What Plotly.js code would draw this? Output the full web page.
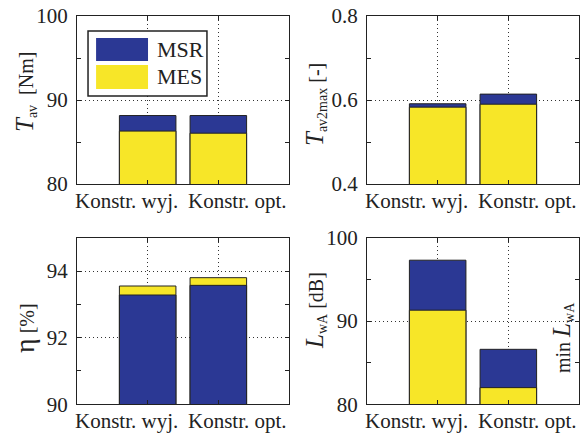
<!DOCTYPE html>
<html>
<head>
<meta charset="utf-8">
<script src="https://cdn.plot.ly/plotly-3.0.1.min.js"></script>
<style>
  html, body { margin: 0; padding: 0; background: #fff; }
  #chart { width: 585px; height: 442px; }
</style>
</head>
<body>
<div id="chart"></div>
<script>
// Design variants compared in every panel
const categories = ['Konstr. wyj.', 'Konstr. opt.'];
const seriesNames = ['MSR', 'MES'];

// Average torque T_av [Nm]
const torqueMSR = [88.15, 88.15];
const torqueMES = [86.3, 86.05];

// Torque ratio T_av2max [-]
const ratioMSR = [0.591, 0.614];
const ratioMES = [0.583, 0.590];

// Efficiency eta [%]
const effMSR = [93.28, 93.57];
const effMES = [93.55, 93.80];

// Sound power level L_wA [dB]
const noiseMSR = [97.3, 86.6];
const noiseMES = [91.3, 82.0];

const BLUE = '#2b3894';
const YELLOW = '#f7e628';
const INK = '#222';
const SERIF = '"Liberation Serif", "Times New Roman", serif';

// Both series are overlaid on the same bar; the taller one goes behind.
function panelTraces(xa, ya, msr, mes) {
  const list = [
    { name: seriesNames[0], y: msr, color: BLUE },
    { name: seriesNames[1], y: mes, color: YELLOW }
  ];
  list.sort((a, b) => Math.max(...b.y) - Math.max(...a.y));
  return list.map(s => ({
    type: 'bar',
    name: s.name,
    x: categories,
    y: s.y,
    width: 0.8,
    xaxis: xa,
    yaxis: ya,
    marker: { color: s.color, line: { color: INK, width: 1 } },
    showlegend: false,
    hoverinfo: 'x+y+name'
  }));
}

const data = [
  ...panelTraces('x', 'y', torqueMSR, torqueMES),
  ...panelTraces('x2', 'y2', ratioMSR, ratioMES),
  ...panelTraces('x3', 'y3', effMSR, effMES),
  ...panelTraces('x4', 'y4', noiseMSR, noiseMES)
];

const W = 585, H = 442;
const px = v => v / W;
const py = v => 1 - v / H;

const colL = [px(77), px(289)];
const colR = [px(367), px(579)];
const rowT = [py(184), py(16)];
const rowB = [py(404.3), py(237.7)];

const GRID = { showgrid: true, gridcolor: '#333', griddash: '1px,3px', gridwidth: 1 };

function xAxis(domain, anchor) {
  return Object.assign({
    domain, anchor,
    type: 'category',
    range: [-1, 2],
    ticks: 'inside', ticklen: 4, tickcolor: INK,
    showline: true, linecolor: INK, linewidth: 1, mirror: 'ticks',
    showticklabels: false, zeroline: false, fixedrange: true
  }, GRID);
}

function yAxis(domain, anchor, range, tickvals, minorVals, fmt) {
  return Object.assign({
    domain, anchor, range,
    tickmode: 'array', tickvals,
    tickformat: fmt,
    ticks: 'inside', ticklen: 4, tickcolor: INK,
    minor: { tickmode: 'array', tickvals: minorVals, ticks: 'inside', ticklen: 4, tickcolor: INK, showgrid: false },
    showline: true, linecolor: INK, linewidth: 1, mirror: 'ticks',
    tickfont: { family: SERIF, size: 21, color: INK },
    ticklabelstandoff: 4,
    zeroline: false, fixedrange: true
  }, GRID);
}

const labelFont = { family: SERIF, size: 21, color: INK };

// Category captions spread to the edges of each panel
function categoryLabels(xa, ya) {
  return [
    { xref: xa + ' domain', yref: ya + ' domain', x: 0, y: 0, xanchor: 'left', yanchor: 'top',
      xshift: -4, yshift: -3, text: categories[0], showarrow: false, font: labelFont },
    { xref: xa + ' domain', yref: ya + ' domain', x: 1, y: 0, xanchor: 'right', yanchor: 'top',
      xshift: 0, yshift: -3, text: categories[1], showarrow: false, font: labelFont }
  ];
}

function sideTitle(x, y, text) {
  return { xref: 'paper', yref: 'paper', x: px(x), y: py(y), xanchor: 'center', yanchor: 'middle',
    textangle: -90, text, showarrow: false, font: { family: SERIF, size: 20, color: INK } };
}

const big = (s, size) => '<span style="font-size:' + size + 'px">' + s + '</span>';

const annotations = [
  ...categoryLabels('x', 'y'),
  ...categoryLabels('x2', 'y2'),
  ...categoryLabels('x3', 'y3'),
  ...categoryLabels('x4', 'y4'),
  sideTitle(25, 92, big('<i>T</i>', 25) + '<sub>av</sub>&nbsp;&nbsp;[Nm]'),
  sideTitle(315, 105, big('<i>T</i>', 25) + '<sub>av2max</sub>&nbsp;[-]'),
  sideTitle(24, 328, big('η', 28) + '&nbsp;[%]'),
  sideTitle(315, 311, big('<i>L</i>', 25) + '<sub>wA</sub>&nbsp;[dB]'),
  sideTitle(562, 338, 'min&nbsp;' + big('<i>L</i>', 25) + '<sub>wA</sub>'),
  // legend captions
  { xref: 'x domain', yref: 'y domain', x: 0.368, y: 0.80, xanchor: 'left', yanchor: 'middle',
    text: seriesNames[0], showarrow: false, font: { family: SERIF, size: 22, color: INK } },
  { xref: 'x domain', yref: 'y domain', x: 0.368, y: 0.637, xanchor: 'left', yanchor: 'middle',
    text: seriesNames[1], showarrow: false, font: { family: SERIF, size: 22, color: INK } }
];

// Legend frame and colour swatches inside the first panel
const shapes = [
  { type: 'rect', xref: 'x domain', yref: 'y domain', x0: 0.052, x1: 0.613, y0: 0.524, y1: 0.911,
    fillcolor: '#fff', line: { color: INK, width: 1.5 }, layer: 'above' },
  { type: 'rect', xref: 'x domain', yref: 'y domain', x0: 0.09, x1: 0.335, y0: 0.732, y1: 0.869,
    fillcolor: BLUE, line: { width: 0 }, layer: 'above' },
  { type: 'rect', xref: 'x domain', yref: 'y domain', x0: 0.09, x1: 0.335, y0: 0.565, y1: 0.708,
    fillcolor: YELLOW, line: { width: 0 }, layer: 'above' }
];

const layout = {
  width: W, height: H,
  margin: { l: 0, r: 0, t: 0, b: 0 },
  paper_bgcolor: '#fff', plot_bgcolor: '#fff',
  barmode: 'overlay',
  showlegend: false,
  font: { family: SERIF, color: INK },
  xaxis: xAxis(colL, 'y'),
  yaxis: yAxis(rowT, 'x', [80, 100], [80, 90, 100], [85, 95], 'd'),
  xaxis2: xAxis(colR, 'y2'),
  yaxis2: yAxis(rowT, 'x2', [0.4, 0.8], [0.4, 0.6, 0.8], [0.5, 0.7], '.1f'),
  xaxis3: xAxis(colL, 'y3'),
  yaxis3: yAxis(rowB, 'x3', [90, 95], [90, 92, 94], [91, 93, 95], 'd'),
  xaxis4: xAxis(colR, 'y4'),
  yaxis4: yAxis(rowB, 'x4', [80, 100], [80, 90, 100], [85, 95], 'd'),
  annotations, shapes
};

Plotly.newPlot('chart', data, layout, { displayModeBar: false, staticPlot: true });
</script>
</body>
</html>
